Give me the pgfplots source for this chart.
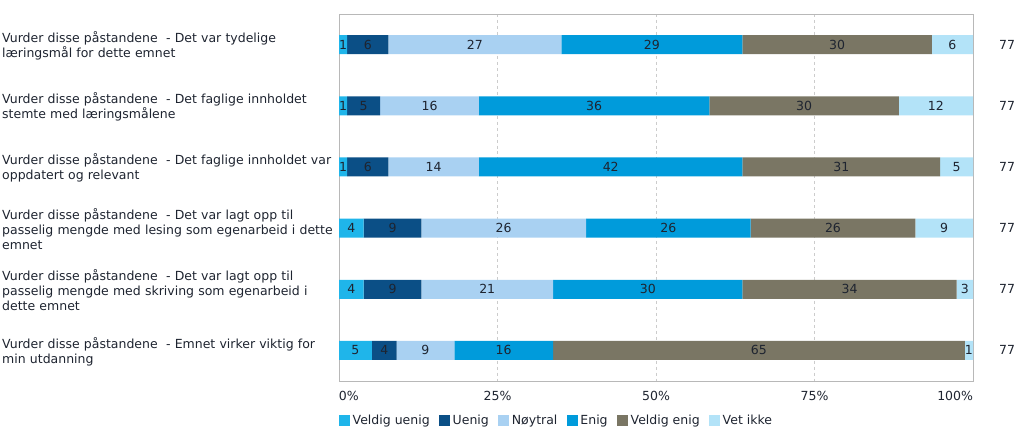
\documentclass[border=0pt]{standalone}
\usepackage{pgfplots}
\pgfplotsset{compat=1.18}
\usepackage{pgfplotstable}
\usepackage{fontspec}
\setmainfont{DejaVu Sans}
\definecolor{cVU}{HTML}{1FB5EA}
\definecolor{cU}{HTML}{0B4F86}
\definecolor{cN}{HTML}{A9D1F2}
\definecolor{cE}{HTML}{009BDB}
\definecolor{cVE}{HTML}{7A7664}
\definecolor{cVI}{HTML}{B3E3F8}
\definecolor{txt}{HTML}{1E2430}
\pgfplotstableread{
y p1 l1 p2 l2 p3 l3 p4 l4 p5 l5 p6 l6
0 1.30 1 6.49 6 27.27 27 28.57 29 29.87 30 6.49 6
1 1.30 1 5.19 5 15.58 16 36.36 36 29.87 30 11.69 12
2 1.30 1 6.49 6 14.29 14 41.56 42 31.17 31 5.19 5
3 3.90 4 9.09 9 25.97 26 25.97 26 25.97 26 9.09 9
4 3.90 4 9.09 9 20.78 21 29.87 30 33.77 34 2.60 3
5 5.19 5 3.90 4 9.09 9 15.58 16 64.94 65 1.30 1
}\data
\newcommand{\fs}{\fontsize{12.5bp}{15bp}\selectfont}
\pgfplotsset{
  common/.style={
    at={(339bp,49bp)}, anchor=south west,
    scale only axis, width=634bp, height=367bp,
    xmin=0, xmax=100, ymin=-0.5, ymax=5.5, y dir=reverse,
    major tick length=0pt,
  },
  lab/.style={draw=none, mark=none, forget plot,
    point meta=explicit symbolic,
    nodes near coords={\pgfplotspointmeta},
    nodes near coords style={font=\fs, text=txt, anchor=center, inner sep=0pt}},
}
\begin{document}
\begin{tikzpicture}
\useasboundingbox (0,0) rectangle (1024bp,430bp);
\begin{axis}[
  common,
  xbar stacked, bar width=19bp,
  xtick={0,25,50,75,100},
  xticklabels={\hphantom{0\%}0\%, 25\%, 50\%, 75\%, 100\%\hphantom{100\%}},
  ytick={0,...,5},
  yticklabels={
    {Vurder disse påstandene~ - Det var tydelige\\læringsmål for dette emnet},
    {Vurder disse påstandene~ - Det faglige innholdet\\stemte med læringsmålene},
    {Vurder disse påstandene~ - Det faglige innholdet var\\oppdatert og relevant},
    {Vurder disse påstandene~ - Det var lagt opp til\\passelig mengde med lesing som egenarbeid i dette\\emnet},
    {Vurder disse påstandene~ - Det var lagt opp til\\passelig mengde med skriving som egenarbeid i\\dette emnet},
    {Vurder disse påstandene~ - Emnet virker viktig for\\min utdanning}},
  yticklabel style={anchor=west, xshift=-337bp, yshift=-1bp, text width=334bp, align=left, inner sep=0pt, font=\fs, text=txt},
  xticklabel style={font=\fs, text=txt, inner sep=0pt, yshift=-10bp},
  axis line style={draw=black!28},
  xmajorgrids, grid style={dash pattern=on 3pt off 3pt, black!20},
  legend columns=6,
  legend style={at={(0,0)}, anchor=north west, yshift=-33bp, draw=none, fill=none, inner sep=0pt,
    font=\fs, text=txt, /tikz/every even column/.append style={column sep=7bp},
    nodes={inner xsep=2.5bp, inner ysep=1bp}},
  legend cell align=left,
  legend image code/.code={\fill[#1] (0bp,-5.5bp) rectangle (11bp,5.5bp);},
]
\addplot[fill=cVU, draw=none] table[x=p1, y=y]{\data};
\addplot[fill=cU, draw=none] table[x=p2, y=y]{\data};
\addplot[fill=cN, draw=none] table[x=p3, y=y]{\data};
\addplot[fill=cE, draw=none] table[x=p4, y=y]{\data};
\addplot[fill=cVE, draw=none] table[x=p5, y=y]{\data};
\addplot[fill=cVI, draw=none] table[x=p6, y=y]{\data};
\legend{Veldig uenig, Uenig, Nøytral, Enig, Veldig enig, Vet ikke}
\end{axis}
\begin{axis}[
  common,
  xtick=\empty, ytick={0,...,5},
  yticklabels={77,77,77,77,77,77},
  yticklabel pos=right,
  yticklabel style={anchor=west, xshift=26bp, inner sep=0pt, font=\fs, text=txt},
  axis line style={draw=none},
  clip=false,
]
\addplot[lab] table[x expr=\thisrow{p1}/2, y=y, meta=l1]{\data};
\addplot[lab] table[x expr=\thisrow{p1}+\thisrow{p2}/2, y=y, meta=l2]{\data};
\addplot[lab] table[x expr=\thisrow{p1}+\thisrow{p2}+\thisrow{p3}/2, y=y, meta=l3]{\data};
\addplot[lab] table[x expr=\thisrow{p1}+\thisrow{p2}+\thisrow{p3}+\thisrow{p4}/2, y=y, meta=l4]{\data};
\addplot[lab] table[x expr=\thisrow{p1}+\thisrow{p2}+\thisrow{p3}+\thisrow{p4}+\thisrow{p5}/2, y=y, meta=l5]{\data};
\addplot[lab] table[x expr=\thisrow{p1}+\thisrow{p2}+\thisrow{p3}+\thisrow{p4}+\thisrow{p5}+\thisrow{p6}/2, y=y, meta=l6]{\data};
\end{axis}
\end{tikzpicture}
\end{document}
